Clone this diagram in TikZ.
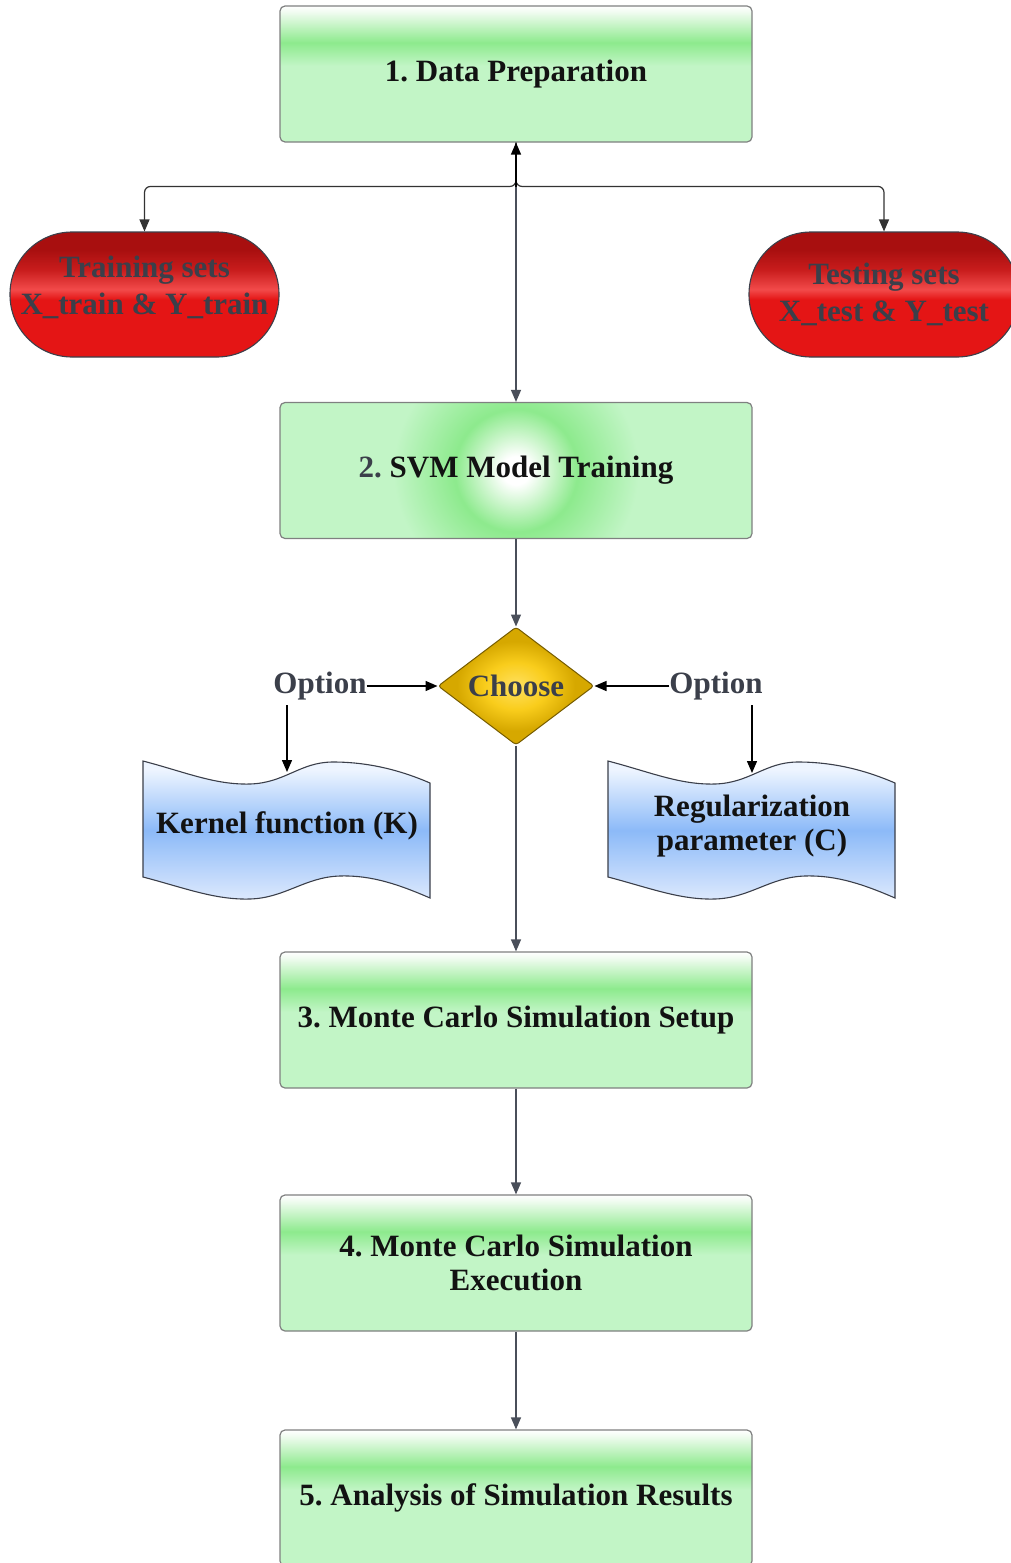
\documentclass[tikz,border=0pt]{standalone}
\usepackage{fontspec}
\setmainfont{Liberation Serif}
\frenchspacing
\usetikzlibrary{arrows.meta,shapes.geometric,calc}
\definecolor{lgreen}{HTML}{C2F5C6}
\definecolor{mgreen}{HTML}{8DEA8D}
\definecolor{topgreen}{HTML}{F2FCF2}
\definecolor{redD}{HTML}{A80F0F}
\definecolor{redM}{HTML}{C81C1C}
\definecolor{redL}{HTML}{F24A4A}
\definecolor{redB}{HTML}{E41515}
\definecolor{blueT}{HTML}{EEF5FF}
\definecolor{blueM}{HTML}{8CBAF8}
\definecolor{blueB}{HTML}{DDE9FD}
\definecolor{goldC}{HTML}{FFE060}
\definecolor{goldM}{HTML}{F9CD1C}
\definecolor{goldE}{HTML}{D6A800}
\definecolor{txtgray}{HTML}{3B3F4A}
\definecolor{linegray}{HTML}{4A4F5A}
\definecolor{bordergray}{HTML}{7F8080}
\pgfdeclareverticalshading{greenbox}{100bp}{color(0bp)=(lgreen); color(53bp)=(lgreen); color(61.5bp)=(mgreen); color(73bp)=(topgreen); color(75bp)=(white); color(100bp)=(white)}
\pgfdeclareverticalshading{redgrad}{100bp}{color(0bp)=(redB); color(48bp)=(redB); color(52bp)=(redL); color(60bp)=(redM); color(68bp)=(redD); color(100bp)=(redD)}
\pgfdeclareverticalshading{bluegrad}{100bp}{color(0bp)=(blueB); color(25bp)=(blueB); color(50bp)=(blueM); color(72bp)=(blueT); color(100bp)=(blueT)}
\pgfdeclareradialshading{svmrad}{\pgfpointorigin}{color(0bp)=(white); color(1.5bp)=(white); color(6.5bp)=(mgreen); color(13bp)=(lgreen); color(50bp)=(lgreen)}
\pgfdeclareradialshading{goldrad}{\pgfpointorigin}{color(0bp)=(goldC); color(10bp)=(goldM); color(19bp)=(goldE); color(50bp)=(goldE)}
\tikzset{
  lbl/.style={font=\bfseries\fontsize{31}{34}\selectfont},
  box/.style={draw=bordergray, line width=1.2pt, rounded corners=5pt, minimum width=472pt, minimum height=136pt, inner sep=0pt, align=center, text=black!93, lbl},
  gbox/.style={box, shade, shading=greenbox},
  oval/.style={draw=txtgray, line width=1.1pt, rounded corners=62pt, minimum width=269pt, minimum height=125pt, shade, shading=redgrad},
  ovtxt/.style={text=txtgray, align=center, inner sep=0pt, lbl, font=\bfseries\fontsize{31}{37}\selectfont},
  opt/.style={text=txtgray, inner sep=0pt, lbl},
  wave/.style={draw=txtgray, line width=1.1pt, shade, shading=bluegrad},
  wtxt/.style={text=black!93, align=center, inner sep=0pt, lbl},
  tip/.style={-{Triangle[length=12pt,width=10pt]}},
  garr/.style={draw=linegray, line width=1.2pt, tip},
  barr/.style={draw=black, line width=1.4pt, tip},
  darr/.style={draw=black!80, line width=1.2pt, tip}
}
\begin{document}
\begin{tikzpicture}[x=1pt,y=-1pt]
\useasboundingbox (0,0) rectangle (1011,1563);

% main boxes
\node[gbox] (b1) at (516,74) {1. Data Preparation};
\node[box, path picture={\shade[shading=svmrad] ($(path picture bounding box.center)+(-236,-236)$) rectangle ($(path picture bounding box.center)+(236,236)$);}] (b2) at (516,470.5) {\textcolor{txtgray}{2.} SVM Model Training};
\node[gbox] (b3) at (516,1020) {3. Monte Carlo Simulation Setup};
\node[gbox] (b4) at (516,1263) {4. Monte Carlo Simulation\\Execution};
\node[gbox] (b5) at (516,1498) {5. Analysis of Simulation Results};

% red ovals
\node[oval] (tr) at (144.5,294.5) {};
\node[ovtxt] (trt) at (144.5,287) {Training sets\\X\_train \& Y\_train};
\node[oval, minimum width=270pt] (te) at (884,294.5) {};
\node[ovtxt] (tet) at (884,294) {Testing sets\\X\_test \& Y\_test};

% diamond
\node[diamond, aspect=1.32, minimum width=156pt, minimum height=118pt, inner sep=0pt, draw=black!45!goldE, line width=1pt, rounded corners=3pt, shade, shading=goldrad, text=txtgray, lbl] (ch) at (516,686) {Choose};
\node[opt] (opL) at (320,686) {Option};
\node[opt] (opR) at (716,686) {Option};

% wave shapes
\path[wave] (143,761) .. controls (185,772) and (215,785) .. (250,784)
  .. controls (285,783) and (300,762) .. (333,762)
  .. controls (368,762) and (400,770) .. (430,783) -- (430,898)
  .. controls (400,885) and (372,875) .. (340,876)
  .. controls (305,877) and (285,898) .. (250,899)
  .. controls (215,900) and (185,888) .. (143,877) -- cycle;
\begin{scope}[xshift=465pt]
\path[wave] (143,761) .. controls (185,772) and (215,785) .. (250,784)
  .. controls (285,783) and (300,762) .. (333,762)
  .. controls (368,762) and (400,770) .. (430,783) -- (430,898)
  .. controls (400,885) and (372,875) .. (340,876)
  .. controls (305,877) and (285,898) .. (250,899)
  .. controls (215,900) and (185,888) .. (143,877) -- cycle;
\end{scope}
\node[wtxt] (kt) at (287,826) {Kernel function (K)};
\node[wtxt] (rt) at (752,826) {Regularization\\parameter (C)};
\coordinate (kwtop) at (287,772);
\coordinate (rwtop) at (752,773);

% top connectors
\coordinate (j) at (516,187);
\draw[darr, rounded corners=6pt] (b1.south) |- ($(tr.north)+(0,-45)$) -- (tr.north);
\draw[darr, rounded corners=6pt] (b1.south) |- ($(te.north)+(0,-45)$) -- (te.north);
\draw[barr] (j) -- (b1.south);
\draw[garr] (j) -- (b2.north);

% middle connectors
\draw[garr] (b2.south) -- (ch.north);
\draw[barr] (opL.east) -- (ch.west);
\draw[barr] (opR.west) -- (ch.east);
\draw[barr] (opL.south -| kwtop) ++(0,5) -- (kwtop);
\draw[barr] (opR.south -| rwtop) ++(0,5) -- (rwtop);
\draw[garr] (ch.south) -- (b3.north);
\draw[garr] (b3.south) -- (b4.north);
\draw[garr] (b4.south) -- (b5.north);
\end{tikzpicture}
\end{document}
